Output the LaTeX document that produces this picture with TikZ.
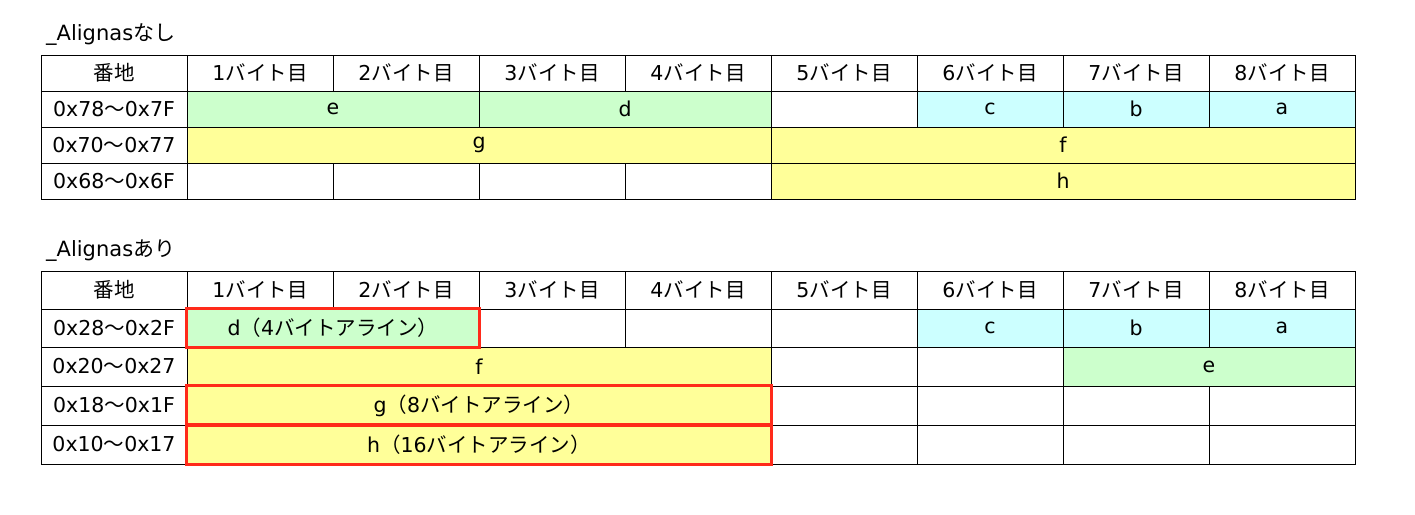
\documentclass[tikz,border=0pt]{standalone}
\usepackage{fontspec}
\setmainfont{DejaVu Sans}
\newfontfamily\jp{Noto Sans CJK JP}
\definecolor{cgreen}{HTML}{CCFFCC}
\definecolor{cyellow}{HTML}{FFFF99}
\definecolor{ccyan}{HTML}{CCFFFF}
\definecolor{cred}{HTML}{FF2A1A}
\newcommand\byt[1]{#1{\jp バイト目}}
\newcommand\wv{{\jp ～}}
\tikzset{
  cellbox/.style={draw=black, line width=0.9pt, inner sep=0pt, anchor=center, font=\fontsize{20.5}{24}\selectfont},
  redbox/.style={draw=cred, line width=2.6pt},
  ttl/.style={anchor=west, inner sep=0pt, font=\fontsize{21}{24}\selectfont}
}
% \mycell{name}{x1}{x2}{y1}{y2}{fill}{text}
\newcommand\mycell[7]{%
  \pgfmathsetmacro\cw{#3-#2}\pgfmathsetmacro\ch{#5-#4}%
  \node[cellbox, fill=#6, minimum width=\cw pt, minimum height=\ch pt] (#1) at ({(#2+#3)/2},{(#4+#5)/2}) {#7};}
\begin{document}
\begin{tikzpicture}[x=1pt,y=-1pt]
\useasboundingbox[fill=white] (0,0) rectangle (1415,514);
% ---------- Table 1 ----------
\node[ttl] (t1) at (46,35) {\_Alignas{\jp なし}};
\mycell{ah}{41}{187}{55}{91}{white}{\jp 番地}
\mycell{h1}{187}{333}{55}{91}{white}{\byt{1}}
\mycell{h2}{333}{479}{55}{91}{white}{\byt{2}}
\mycell{h3}{479}{625}{55}{91}{white}{\byt{3}}
\mycell{h4}{625}{771}{55}{91}{white}{\byt{4}}
\mycell{h5}{771}{917}{55}{91}{white}{\byt{5}}
\mycell{h6}{917}{1063}{55}{91}{white}{\byt{6}}
\mycell{h7}{1063}{1209}{55}{91}{white}{\byt{7}}
\mycell{h8}{1209}{1355}{55}{91}{white}{\byt{8}}
% row 1
\mycell{ra1}{41}{187}{91}{127}{white}{0x78\wv 0x7F}
\mycell{e1}{187}{479}{91}{127}{cgreen}{e}
\mycell{d1}{479}{771}{91}{127}{cgreen}{d}
\mycell{x15}{771}{917}{91}{127}{white}{}
\mycell{c1}{917}{1063}{91}{127}{ccyan}{c}
\mycell{b1}{1063}{1209}{91}{127}{ccyan}{b}
\mycell{a1}{1209}{1355}{91}{127}{ccyan}{a}
% row 2
\mycell{ra2}{41}{187}{127}{163}{white}{0x70\wv 0x77}
\mycell{g1}{187}{771}{127}{163}{cyellow}{g}
\mycell{f1}{771}{1355}{127}{163}{cyellow}{f}
% row 3
\mycell{ra3}{41}{187}{163}{199}{white}{0x68\wv 0x6F}
\mycell{x31}{187}{333}{163}{199}{white}{}
\mycell{x32}{333}{479}{163}{199}{white}{}
\mycell{x33}{479}{625}{163}{199}{white}{}
\mycell{x34}{625}{771}{163}{199}{white}{}
\mycell{hh1}{771}{1355}{163}{199}{cyellow}{h}
% ---------- Table 2 ----------
\node[ttl] (t2) at (46,251) {\_Alignas{\jp あり}};
\mycell{bh}{41}{187}{271}{309}{white}{\jp 番地}
\mycell{k1}{187}{333}{271}{309}{white}{\byt{1}}
\mycell{k2}{333}{479}{271}{309}{white}{\byt{2}}
\mycell{k3}{479}{625}{271}{309}{white}{\byt{3}}
\mycell{k4}{625}{771}{271}{309}{white}{\byt{4}}
\mycell{k5}{771}{917}{271}{309}{white}{\byt{5}}
\mycell{k6}{917}{1063}{271}{309}{white}{\byt{6}}
\mycell{k7}{1063}{1209}{271}{309}{white}{\byt{7}}
\mycell{k8}{1209}{1355}{271}{309}{white}{\byt{8}}
% row 1
\mycell{rb1}{41}{187}{309}{347}{white}{0x28\wv 0x2F}
\mycell{d2}{187}{479}{309}{347}{cgreen}{d{\jp （}4{\jp バイトアライン）}}
\mycell{y13}{479}{625}{309}{347}{white}{}
\mycell{y14}{625}{771}{309}{347}{white}{}
\mycell{y15}{771}{917}{309}{347}{white}{}
\mycell{c2}{917}{1063}{309}{347}{ccyan}{c}
\mycell{b2}{1063}{1209}{309}{347}{ccyan}{b}
\mycell{a2}{1209}{1355}{309}{347}{ccyan}{a}
% row 2
\mycell{rb2}{41}{187}{347}{386}{white}{0x20\wv 0x27}
\mycell{f2}{187}{771}{347}{386}{cyellow}{f}
\mycell{y25}{771}{917}{347}{386}{white}{}
\mycell{y26}{917}{1063}{347}{386}{white}{}
\mycell{e2}{1063}{1355}{347}{386}{cgreen}{e}
% row 3
\mycell{rb3}{41}{187}{386}{425}{white}{0x18\wv 0x1F}
\mycell{g2}{187}{771}{386}{425}{cyellow}{g{\jp （}8{\jp バイトアライン）}}
\mycell{y35}{771}{917}{386}{425}{white}{}
\mycell{y36}{917}{1063}{386}{425}{white}{}
\mycell{y37}{1063}{1209}{386}{425}{white}{}
\mycell{y38}{1209}{1355}{386}{425}{white}{}
% row 4
\mycell{rb4}{41}{187}{425}{464}{white}{0x10\wv 0x17}
\mycell{hh2}{187}{771}{425}{464}{cyellow}{h{\jp （}16{\jp バイトアライン）}}
\mycell{y45}{771}{917}{425}{464}{white}{}
\mycell{y46}{917}{1063}{425}{464}{white}{}
\mycell{y47}{1063}{1209}{425}{464}{white}{}
\mycell{y48}{1209}{1355}{425}{464}{white}{}
% red alignment frames
\draw[redbox] (d2.north west) rectangle (d2.south east);
\draw[redbox] (g2.north west) rectangle (g2.south east);
\draw[redbox] (hh2.north west) rectangle (hh2.south east);
\end{tikzpicture}
\end{document}
